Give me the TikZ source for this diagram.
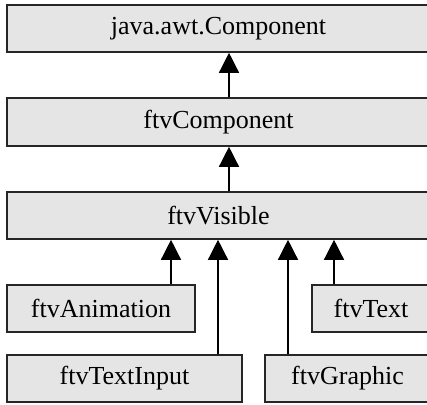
\documentclass[tikz,border=0pt]{standalone}
\usepackage{fontspec}
\setmainfont{Liberation Serif}
\usetikzlibrary{arrows.meta}
\begin{document}
\begin{tikzpicture}[x=1pt,y=-1pt,
  cls/.style={draw=black!85, line width=1.6pt, fill=black!10, inner sep=0pt,
    font=\fontsize{26}{30}\selectfont},
  arr/.style={line width=1.4pt, draw=black, -{Triangle[width=20pt,length=20pt]}}]
\useasboundingbox (0,0) rectangle (427,404);
\clip (0,0) rectangle (427,404);
\node[cls, minimum width=423pt, minimum height=47pt] (comp) at (218.5,28.5) {java.awt.Component};
\node[cls, minimum width=423pt, minimum height=48pt] (ftvcomp) at (218.5,122) {ftvComponent};
\node[cls, minimum width=423pt, minimum height=47pt] (vis) at (218.5,215.5) {ftvVisible};
\node[cls, minimum width=188pt, minimum height=47pt] (anim) at (101,308.5) {ftvAnimation};
\node[cls, minimum width=118pt, minimum height=47pt] (text) at (371,308.5) {ftvText};
\node[cls, minimum width=235pt, minimum height=47pt] (input) at (124.5,378.5) {ftvTextInput};
\node[cls, minimum width=165pt, minimum height=47pt] (graphic) at (347.5,378.5) {ftvGraphic};
\draw[arr] (ftvcomp.north -| 229,0) -- (comp.south -| 229,0);
\draw[arr] (vis.north -| 229,0) -- (ftvcomp.south -| 229,0);
\draw[arr] (anim.north -| 171,0) -- (vis.south -| 171,0);
\draw[arr] (input.north -| 218,0) -- (vis.south -| 218,0);
\draw[arr] (graphic.north -| 288,0) -- (vis.south -| 288,0);
\draw[arr] (text.north -| 334,0) -- (vis.south -| 334,0);
\end{tikzpicture}
\end{document}
